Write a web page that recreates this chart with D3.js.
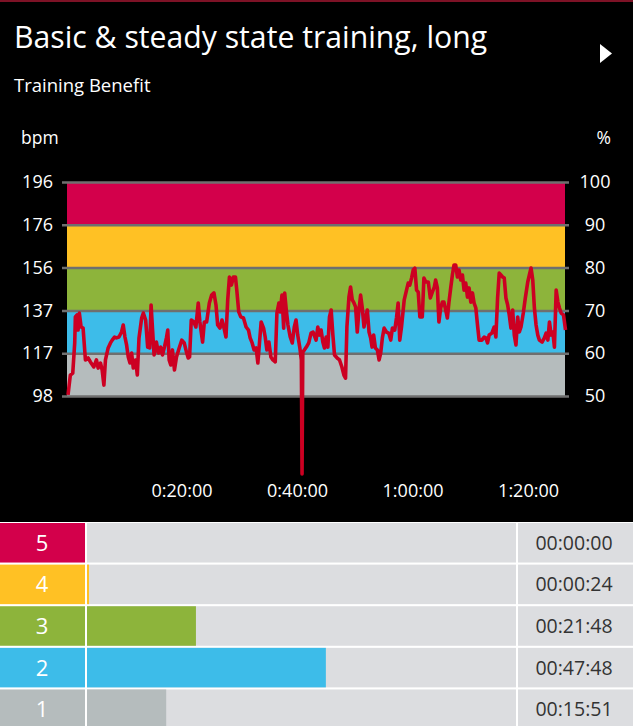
<!DOCTYPE html>
<html>
<head>
<meta charset="utf-8">
<script src="https://cdn.jsdelivr.net/npm/d3@7"></script>
<style>
  html, body { margin: 0; padding: 0; background: #000; }
  svg { display: block; font-family: "Open Sans", sans-serif; }
</style>
</head>
<body>
<div id="chart"></div>
<script>
// heart rate samples (minutes from start, bpm)
const hrMinutes = [0.35,0.75,1.17,1.51,1.62,1.91,2.09,2.31,2.61,2.96,3.36,3.83,4.23,4.82,5.27,5.57,5.97,6.26,6.56,6.83,
  7.30,7.70,8.00,8.40,8.75,9.17,9.62,9.91,10.21,10.49,10.78,11.08,11.36,11.65,12.05,12.35,12.64,13.10,13.39,13.79,
  14.14,14.49,14.73,14.96,15.25,15.65,16.00,16.40,16.70,17.04,17.39,17.62,17.86,18.14,18.43,18.78,19.13,19.60,20.05,20.47,
  20.87,21.16,21.40,21.69,22.14,22.49,22.90,23.18,23.65,23.95,24.35,24.82,25.22,25.62,25.97,26.26,26.66,27.01,27.36,27.70,
  28.00,28.30,28.64,28.99,29.34,29.57,29.91,30.26,30.73,31.18,31.60,31.88,32.23,32.57,32.92,33.22,33.51,33.79,34.21,34.49,
  34.78,35.13,35.48,35.83,36.23,36.52,36.87,37.10,37.39,37.69,37.86,38.14,38.43,38.83,39.18,39.53,39.83,40.12,40.47,40.75,
  40.87,41.00,41.62,42.03,42.43,42.78,43.30,43.60,43.88,44.17,44.47,44.75,45.04,45.34,45.62,45.91,46.21,46.49,46.96,47.36,
  47.77,48.12,48.40,48.64,48.99,49.27,49.57,49.86,50.14,50.43,50.73,51.01,51.30,51.60,51.88,52.17,52.47,52.75,52.99,53.27,
  53.57,53.91,54.21,54.49,54.78,55.08,55.48,55.88,56.23,56.52,56.92,57.22,57.51,57.79,58.09,58.56,58.96,59.25,59.53,59.83,
  60.12,60.40,60.70,60.99,61.27,61.69,61.97,62.31,62.73,63.08,63.43,63.77,64.00,64.30,64.57,64.87,65.17,65.44,65.74,66.03,
  66.31,66.61,66.90,67.18,67.48,67.77,68.05,68.35,68.64,68.92,69.22,69.51,69.79,70.09,70.38,70.66,70.96,71.25,71.53,72.00,
  72.40,72.70,72.99,73.27,73.74,74.14,74.43,74.73,75.01,75.30,75.60,75.88,76.17,76.47,76.75,77.04,77.34,77.62,77.91,78.21,
  78.49,78.78,79.18,79.53,79.95,80.23,80.52,80.82,81.10,81.39,81.69,81.97,82.43,82.83,83.13,83.43,83.71,84.00,84.30,84.57,
  84.87,85.17,85.44,85.74,86.14,86.49];
const hrBpm = [98.5,107.6,108.5,122.3,134.2,135.1,128.2,136.0,129.6,129.1,114.5,115.4,113.6,111.3,114.5,110.8,113.1,109.9,103.0,114.5,
  120.0,122.3,123.6,125.0,124.6,125.0,127.3,130.5,125.0,121.4,115.9,113.1,117.7,110.8,114.5,107.6,124.6,133.7,136.0,132.8,
  120.4,120.0,139.7,129.6,116.8,122.7,117.7,120.4,116.8,120.4,124.6,128.2,114.5,112.2,119.1,109.9,115.9,120.0,123.6,122.3,
  118.0,115.4,115.9,132.8,131.9,129.6,140.6,131.9,122.7,131.9,131.9,140.6,144.2,145.2,139.7,130.5,129.1,132.8,129.1,125.0,
  142.0,152.5,148.8,152.5,152.5,146.5,136.5,134.2,133.7,129.6,128.2,124.6,122.3,119.1,120.0,113.1,122.7,131.9,129.1,125.0,
  119.1,122.7,115.9,114.5,113.6,136.0,140.6,136.5,144.2,129.1,145.2,137.4,130.5,125.0,122.3,129.6,132.8,125.9,120.4,114.5,
  62.3,118.0,120.4,122.3,126.8,127.3,123.6,129.6,125.9,128.2,122.7,120.0,125.0,120.4,134.2,137.4,125.9,116.8,115.4,114.5,
  111.3,107.6,106.2,129.6,143.3,147.9,142.0,140.6,138.8,127.3,137.4,144.2,138.3,129.6,133.7,137.4,127.3,124.6,120.4,125.9,
  120.0,119.1,114.5,117.7,124.6,129.1,127.3,126.8,123.6,129.1,128.2,133.7,140.6,123.6,129.6,142.0,146.5,149.7,148.8,152.0,
  155.7,156.6,146.5,145.6,134.2,134.2,152.0,150.2,150.2,142.9,145.6,147.9,151.1,147.5,131.9,138.3,141.0,141.0,137.4,133.7,
  141.0,147.5,153.4,158.0,158.0,152.5,155.7,151.1,153.4,146.5,149.7,143.3,147.5,141.0,145.2,140.6,138.3,130.5,123.6,123.6,
  125.0,124.6,122.3,125.9,126.8,129.6,125.0,142.9,154.3,153.4,152.5,152.0,142.9,139.7,135.1,129.1,137.4,125.9,121.4,134.2,
  127.3,129.6,136.0,142.9,150.2,153.4,156.6,151.1,138.3,130.5,125.9,123.6,122.7,124.6,126.8,123.6,131.9,125.9,127.3,120.4,
  146.5,141.0,138.3,136.0,135.1,128.2];

// zones (percent of max HR)
const zoneIds = [5, 4, 3, 2, 1];
const zoneColors = ["#d3004b", "#ffc124", "#8db43b", "#3dbce9", "#b5bcbd"];
const zoneLow = [90, 80, 70, 60, 50];
const zoneHigh = [100, 90, 80, 70, 60];
const zoneTimes = ["00:00:00", "00:00:24", "00:21:48", "00:47:48", "00:15:51"];

// axis labels
const pctTicks = [50, 60, 70, 80, 90, 100];
const bpmLabels = ["98", "117", "137", "156", "176", "196"];
const timeTicks = [20, 40, 60, 80];
const timeLabels = ["0:20:00", "0:40:00", "1:00:00", "1:20:00"];

const W = 633, H = 726;

const svg = d3.select("#chart").append("svg")
  .attr("width", W).attr("height", H);

svg.append("rect").attr("width", W).attr("height", H).attr("fill", "#000");
svg.append("rect").attr("width", W).attr("height", 2).attr("fill", "#7d1226");

svg.append("text").attr("x", 14).attr("y", 48)
  .attr("fill", "#fff").attr("font-size", 30.2).text("Basic & steady state training, long");
svg.append("text").attr("x", 14).attr("y", 92)
  .attr("fill", "#fff").attr("font-size", 18.5).text("Training Benefit");
svg.append("path").attr("d", "M600,44 L612,53.5 L600,63 Z").attr("fill", "#fff");

const plotL = 66, plotR = 565;
const x = d3.scaleLinear().domain([0, 86.4]).range([plotL, plotR]);
const yPct = d3.scaleLinear().domain([50, 100]).range([396, 182]);
const yBpm = d3.scaleLinear().domain([98, 196]).range([396, 182]);

svg.append("text").attr("x", 21).attr("y", 144).attr("fill", "#fff")
  .attr("font-size", 17.5).text("bpm");
svg.append("text").attr("x", 611).attr("y", 144).attr("fill", "#fff")
  .attr("text-anchor", "end").attr("font-size", 17.5).text("%");

// zone bands
svg.selectAll("rect.zone")
  .data(zoneIds)
  .join("rect")
  .attr("class", "zone")
  .attr("x", 67)
  .attr("width", plotR - 67)
  .attr("y", (d, i) => yPct(zoneHigh[i]))
  .attr("height", (d, i) => yPct(zoneLow[i]) - yPct(zoneHigh[i]))
  .attr("fill", (d, i) => zoneColors[i]);

// left axis with gridlines
const gLeft = svg.append("g").attr("transform", "translate(62,0)")
  .call(d3.axisLeft(yPct).tickValues(pctTicks).tickSize(-(569 - 62)).tickPadding(9)
    .tickFormat((d, i) => bpmLabels[i]));
gLeft.select(".domain").remove();
gLeft.selectAll(".tick line").attr("stroke", "#6f6f6f").attr("stroke-width", 2.5);
gLeft.selectAll(".tick text").attr("fill", "#fff").attr("font-size", 18)
  .attr("font-family", "Open Sans");

const gRight = svg.append("g").attr("transform", "translate(569,0)")
  .call(d3.axisRight(yPct).tickValues(pctTicks).tickSize(0).tickPadding(26));
gRight.select(".domain").remove();
gRight.selectAll(".tick text").attr("fill", "#fff").attr("font-size", 18)
  .attr("font-family", "Open Sans").attr("text-anchor", "middle");

// bottom time axis
const gBottom = svg.append("g").attr("transform", "translate(0,484)")
  .call(d3.axisBottom(x).tickValues(timeTicks).tickSize(0).tickPadding(0)
    .tickFormat((d, i) => timeLabels[i]));
gBottom.select(".domain").remove();
gBottom.selectAll(".tick text").attr("fill", "#fff").attr("font-size", 18)
  .attr("font-family", "Open Sans");

// heart rate line
const hr = hrMinutes.map((t, i) => ({ t: t, bpm: hrBpm[i] }));
svg.append("path")
  .datum(hr)
  .attr("d", d3.line().x(d => x(d.t)).y(d => yBpm(d.bpm)))
  .attr("fill", "none")
  .attr("stroke", "#cc0022")
  .attr("stroke-width", 3.6)
  .attr("stroke-linejoin", "round");

// zone time table
function toSec(s) {
  const p = s.split(":").map(Number);
  return p[0] * 3600 + p[1] * 60 + p[2];
}
const zoneSecs = zoneTimes.map(toSec);
const totalSec = d3.sum(zoneSecs);

svg.append("rect").attr("y", 522).attr("width", W).attr("height", H - 522).attr("fill", "#fff");

const row = d3.scaleBand().domain(zoneIds).range([523, 729]).paddingInner(0.05);
const bar = d3.scaleLinear().domain([0, totalSec]).range([87, 516]);

const rows = svg.selectAll("g.row")
  .data(zoneIds)
  .join("g")
  .attr("class", "row")
  .attr("transform", d => `translate(0,${row(d)})`);

rows.append("rect").attr("width", 85).attr("height", row.bandwidth())
  .attr("fill", (d, i) => zoneColors[i]);
rows.append("rect").attr("x", 87).attr("width", 516 - 87).attr("height", row.bandwidth())
  .attr("fill", "#dcdde0");
rows.append("rect").attr("x", 87).attr("width", (d, i) => bar(zoneSecs[i]) - bar(0))
  .attr("height", row.bandwidth()).attr("fill", (d, i) => zoneColors[i]);
rows.append("rect").attr("x", 518).attr("width", W - 518).attr("height", row.bandwidth())
  .attr("fill", "#dcdde0");
rows.append("text").attr("x", 42).attr("y", row.bandwidth() / 2 + 8)
  .attr("text-anchor", "middle").attr("fill", "#fff").attr("font-size", 22)
  .text(d => d);
rows.append("text").attr("x", 574).attr("y", row.bandwidth() / 2 + 7)
  .attr("text-anchor", "middle").attr("fill", "#333").attr("font-size", 19.5)
  .text((d, i) => zoneTimes[i]);
</script>
</body>
</html>
